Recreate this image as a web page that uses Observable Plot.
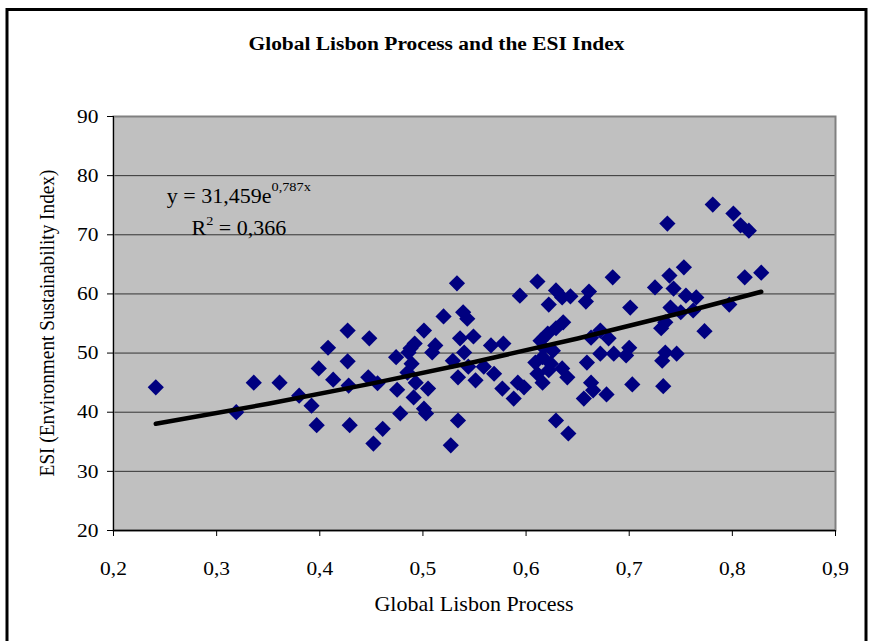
<!DOCTYPE html>
<html><head><meta charset="utf-8">
<script src="https://cdn.jsdelivr.net/npm/d3@7"></script>
<script src="https://cdn.jsdelivr.net/npm/@observablehq/plot@0.6"></script>
<style>
html,body{margin:0;padding:0;background:#fff;}
#chart{width:869px;height:641px;overflow:hidden;}
</style></head><body><div id="chart"></div>
<script>
const chartTitle = "Global Lisbon Process and the ESI Index";
const xLabel = "Global Lisbon Process";
const yLabel = "ESI (Environment Sustainability Index)";
const xTicks = [0.2, 0.3, 0.4, 0.5, 0.6, 0.7, 0.8, 0.9];
const xTickLabels = ["0,2", "0,3", "0,4", "0,5", "0,6", "0,7", "0,8", "0,9"];
const yTicks = [20, 30, 40, 50, 60, 70, 80, 90];
const yTickLabels = ["20", "30", "40", "50", "60", "70", "80", "90"];
const eqMain = "y = 31,459e";
const eqExp = "0,787x";
const r2Main = "R";
const r2Exp = "2";
const r2Rest = " = 0,366";

const gliValues = [0.241,0.319,0.336,0.361,0.380,0.392,0.397,0.399,0.408,0.413,
0.427,0.427,0.428,0.429,0.448,0.447,0.456,0.461,0.452,0.478,
0.474,0.475,0.486,0.488,0.492,0.489,0.485,0.493,0.491,0.501,
0.505,0.501,0.503,0.509,0.512,0.520,0.527,0.529,0.533,0.534,
0.534,0.536,0.539,0.543,0.540,0.544,0.549,0.551,0.559,0.566,
0.569,0.577,0.578,0.588,0.592,0.594,0.598,0.611,0.609,0.611,
0.614,0.616,0.616,0.617,0.621,0.622,0.622,0.624,0.626,0.629,
0.629,0.629,0.635,0.636,0.635,0.640,0.641,0.643,0.656,0.658,
0.659,0.661,0.663,0.663,0.665,0.672,0.672,0.678,0.680,0.684,
0.685,0.697,0.700,0.701,0.703,0.725,0.731,0.735,0.732,0.733,
0.735,0.737,0.739,0.740,0.743,0.746,0.750,0.753,0.755,0.762,
0.765,0.773,0.781,0.797,0.801,0.808,0.816,0.812,0.828];
const esiValues = [44.2,40.0,45.0,45.0,42.8,41.1,37.8,47.4,50.9,45.5,
53.8,48.6,44.5,37.8,52.5,45.9,44.9,37.2,34.7,39.8,
49.3,43.8,50.1,50.8,51.6,48.2,46.7,45.0,42.5,53.8,
44.0,40.6,39.8,50.1,51.3,56.2,34.4,48.7,61.8,45.9,
38.6,52.5,56.9,55.8,50.1,47.7,52.8,45.4,47.7,51.3,
46.5,44.0,51.6,42.3,45.0,59.7,44.2,62.1,48.4,46.5,
52.1,49.3,45.0,50.9,53.3,58.2,47.1,48.2,50.4,60.6,
54.2,38.6,59.4,55.2,47.4,45.9,36.4,59.6,42.3,58.7,
48.4,60.4,52.6,45.0,43.7,53.8,49.9,43.0,52.5,62.8,
49.9,49.6,50.9,57.7,44.7,61.1,54.2,55.2,48.7,44.4,
50.1,71.9,63.1,57.7,60.9,49.9,56.9,64.5,59.7,57.2,
59.4,53.7,75.1,58.2,73.6,71.6,70.7,62.8,63.6];

// Trend line points (exponential fit as shown on chart)
const trendX = [0.241, 0.35, 0.45, 0.55, 0.65, 0.75, 0.828];
const trendY = [38.05, 41.43, 44.83, 48.50, 52.47, 56.77, 60.36];

const points = gliValues.map((x, i) => ({x, y: esiValues[i]}));
const trend = trendX.map((x, i) => ({x, y: trendY[i]}));

const FONT = "'Liberation Serif', 'Times New Roman', serif";
const SX = 1.1;

const plot = Plot.plot({
  width: 869, height: 641,
  marginLeft: 113, marginRight: 34, marginTop: 116, marginBottom: 111,
  x: {domain: [0.2, 0.9]},
  y: {domain: [20, 90]},
  style: {fontFamily: FONT, fontSize: "19.5px", background: "white", color: "black", overflow: "visible"},
  marks: [
    Plot.frame({fill: "#c0c0c0"}),
    Plot.ruleY(yTicks.filter(v => v > 20 && v < 90), {stroke: "#333333", strokeWidth: 1}),
    Plot.frame({stroke: "#808080", strokeWidth: 2}),
    Plot.ruleX([0.2], {stroke: "#000", strokeWidth: 1}),
    Plot.ruleY([20], {stroke: "#000", strokeWidth: 1.5}),
    Plot.axisY({ticks: yTicks, tickSize: 6, tickPadding: 9, fontSize: 19.5, label: null,
      tickFormat: d => yTickLabels[yTicks.indexOf(d)]}),
    Plot.axisX({ticks: xTicks, tickSize: 6, tickPadding: 25, fontSize: 19.5, label: null,
      tickFormat: d => xTickLabels[xTicks.indexOf(d)]}),
    Plot.dot(points, {x: "x", y: "y", symbol: "diamond2", r: 7.3, fill: "#000080", stroke: "none"}),
    Plot.line(trend, {x: "x", y: "y", stroke: "#000", strokeWidth: 4.5, curve: "monotone-x", strokeLinecap: "round"})
  ]
});

document.getElementById("chart").appendChild(plot);
const svg = d3.select(plot);
const xs = plot.scale("x"), ys = plot.scale("y");

// outer frame
svg.insert("rect", ":first-child")
  .attr("x", 7).attr("y", 9.5).attr("width", 859).attr("height", 700)
  .attr("fill", "white").attr("stroke", "#000").attr("stroke-width", 3);

// title
svg.append("text").attr("x", 436.5).attr("y", 50)
  .attr("text-anchor", "middle").attr("font-weight", "bold")
  .attr("font-size", 19.5).attr("font-family", FONT).text(chartTitle);

// x label
const xMid = (xs.apply(0.2) + xs.apply(0.9)) / 2;
svg.append("text").attr("x", xMid).attr("y", 611)
  .attr("text-anchor", "middle").attr("font-size", 20).attr("font-family", FONT).text(xLabel);

// y label
const yMid = (ys.apply(20) + ys.apply(90)) / 2;
svg.append("text").attr("transform", `translate(54,${yMid}) rotate(-90)`)
  .attr("text-anchor", "middle").attr("font-size", 19.3).attr("font-family", FONT).text(yLabel);

// equation annotation
const eqX = xs.apply(0.322);
const t1 = svg.append("text").attr("x", eqX).attr("y", ys.apply(75.3))
  .attr("text-anchor", "middle").attr("font-size", 20).attr("font-family", FONT);
t1.append("tspan").text(eqMain);
t1.append("tspan").attr("dy", -12).attr("font-size", 13).text(eqExp);
const t2 = svg.append("text").attr("x", eqX).attr("y", ys.apply(69.8))
  .attr("text-anchor", "middle").attr("font-size", 20).attr("font-family", FONT);
t2.append("tspan").text(r2Main);
t2.append("tspan").attr("dy", -10).attr("font-size", 13).text(r2Exp);
t2.append("tspan").attr("dy", 10).text(r2Rest);

// horizontal stretch of all text to match reference proportions
svg.selectAll("text").each(function() {
  const el = d3.select(this);
  let t = el.attr("transform") || "";
  if (!t) {
    const x = +el.attr("x") || 0, y = +el.attr("y") || 0;
    el.attr("x", null).attr("y", null);
    t = `translate(${x},${y})`;
  }
  el.attr("transform", t + (/rotate\(-?90\)/.test(t) ? ` scale(1,${SX})` : ` scale(${SX},1)`));
});
</script>
</body></html>
